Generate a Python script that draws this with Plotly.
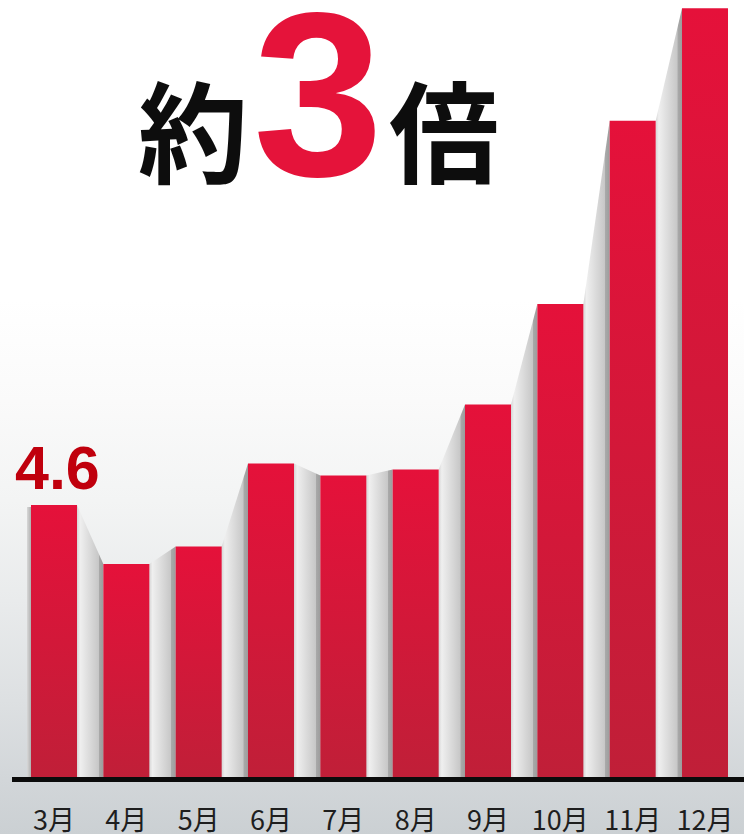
import plotly.graph_objects as go

# ---- data ----
months = ["3月", "4月", "5月", "6月", "7月", "8月", "9月", "10月", "11月", "12月"]
values = [4.6, 3.6, 3.9, 5.3, 5.1, 5.2, 6.3, 8.0, 11.1, 13.0]
first_label = "4.6"
headline = ["約", "3", "倍"]

# ---- geometry / style ----
W, H = 744, 834
pos = list(range(len(months)))
BW = 0.636                 # bar width in category units
X0, X1 = -0.7466, 9.539    # x range
Y0, Y1 = -0.964, 13.14     # y range
PXX = W / (X1 - X0)
PXY = H / (Y1 - Y0)

BAR_TOP = "#e5113a"
BAR_BOT = "#c01f38"

fig = go.Figure()

# background vertical gradient
bg_scale = [[0, "#cbd0d3"], [0.065, "#d2d6d9"], [0.16, "#dde0e2"], [0.28, "#e9ebec"],
            [0.40, "#f3f4f4"], [0.52, "#fafafa"], [0.64, "#ffffff"], [1, "#ffffff"]]
fig.add_trace(go.Scatter(
    x=[X0 - 1, X1 + 1, X1 + 1, X0 - 1, X0 - 1],
    y=[Y0 - 1, Y0 - 1, Y1 + 1, Y1 + 1, Y0 - 1],
    fill="toself", mode="none", hoverinfo="skip", showlegend=False,
    fillgradient=dict(type="vertical", start=Y0, stop=Y1, colorscale=bg_scale)))

shadow_scale = [[0, "#d6d6d6"], [0.12, "#efefef"], [0.82, "#c7c7c7"],
                [0.84, "#a9a9a9"], [1, "#9c9c9c"]]

# shadow to the left of the first bar
xb = pos[0] - BW / 2
xa = xb - 4 / PXX
vt = values[0] - 2 / PXY
fig.add_trace(go.Scatter(
    x=[xa, xa, xb, xb, xa], y=[0, vt, vt, 0, 0],
    fill="toself", mode="none", hoverinfo="skip", showlegend=False,
    fillgradient=dict(type="horizontal", start=xa, stop=xb,
                      colorscale=[[0, "#d8d8d8"], [1, "#b0b0b0"]])))

# shadows between bars
for i in range(len(values) - 1):
    xa = pos[i] + BW / 2
    xb = pos[i + 1] - BW / 2
    fig.add_trace(go.Scatter(
        x=[xa, xa, xb, xb, xa], y=[0, values[i], values[i + 1], 0, 0],
        fill="toself", mode="none", hoverinfo="skip", showlegend=False,
        fillgradient=dict(type="horizontal", start=xa, stop=xb, colorscale=shadow_scale)))

# bars
for p, v, m in zip(pos, values, months):
    xl, xr = p - BW / 2, p + BW / 2
    fig.add_trace(go.Scatter(
        x=[xl, xl, xr, xr, xl], y=[0, v, v, 0, 0],
        fill="toself", mode="none", name=m, showlegend=False,
        hovertemplate=f"{m}: {v}<extra></extra>",
        fillgradient=dict(type="vertical", start=0, stop=v,
                          colorscale=[[0, BAR_BOT], [1, BAR_TOP]])))

# baseline
fig.add_shape(type="line", xref="x", yref="y",
              x0=X0 + 12 / PXX, x1=X1 + 0.2, y0=-2.5 / PXY, y1=-2.5 / PXY,
              line=dict(color="#0b0b0b", width=5))

# value label on first bar
fig.add_annotation(x=pos[0], y=values[0], xref="x", yref="y",
                   text=f"<b>{first_label}</b>", showarrow=False,
                   xanchor="center", yanchor="bottom", xshift=3, yshift=1,
                   font=dict(family="Liberation Sans, Arial", size=61, color="#c0000d"))

# headline
cjk = "Noto Sans CJK JP"
fig.add_annotation(x=193 / W, y=1 - 127 / H, xref="paper", yref="paper",
                   text=headline[0], showarrow=False, xanchor="center", yanchor="middle",
                   font=dict(family=cjk, size=110, color="#0d0d0d", weight="bold"))
fig.add_annotation(x=318 / W, y=1 - 94 / H, xref="paper", yref="paper",
                   text=headline[1], showarrow=False, xanchor="center", yanchor="middle",
                   font=dict(family="Liberation Sans, Arial", size=234, color="#e5133a", weight="bold"))
fig.add_annotation(x=444 / W, y=1 - 127 / H, xref="paper", yref="paper",
                   text=headline[2], showarrow=False, xanchor="center", yanchor="middle",
                   font=dict(family=cjk, size=110, color="#0d0d0d", weight="bold"))

fig.update_layout(
    width=W, height=H,
    margin=dict(l=0, r=0, t=0, b=0),
    paper_bgcolor="white", plot_bgcolor="white",
    showlegend=False,
    xaxis=dict(range=[X0, X1], showgrid=False, zeroline=False, showline=False,
               tickvals=pos, ticktext=months, ticks="",
               tickfont=dict(family=cjk, size=27, color="#1e1e1e"),
               anchor="free", position=(H - 802) / H, automargin=False, fixedrange=True),
    yaxis=dict(range=[Y0, Y1], visible=False, fixedrange=True),
)

fig.write_html("out.html", config={"displayModeBar": False},
               post_script="document.body.style.margin='0';document.body.style.overflow='hidden';")
